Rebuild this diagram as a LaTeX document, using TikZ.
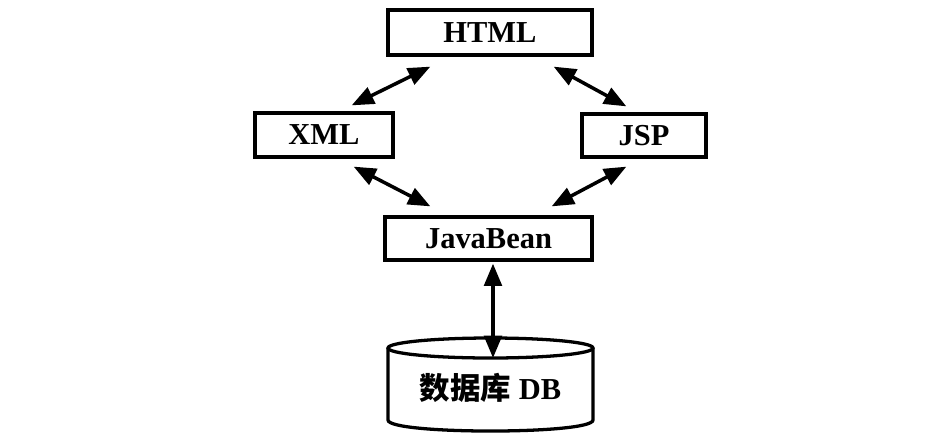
\documentclass[tikz,border=0pt]{standalone}
\usepackage{fontspec}
\setmainfont{Liberation Serif}
\newfontfamily\cjk{Noto Sans CJK SC}
\usetikzlibrary{arrows.meta}

\tikzset{
    layer/.style={draw, line width=2.8pt, font=\bfseries\fontsize{26}{30}\selectfont,
        inner sep=0pt},
    link/.style={line width=3pt,
        {Triangle[length=19pt,width=15pt]}-{Triangle[length=19pt,width=15pt]}}
}

\begin{document}
\begin{tikzpicture}[x=0.03cm, y=-0.03cm]
        \useasboundingbox (0, 0) rectangle (945, 438);
        % the four layers, with labels
        \node[layer, minimum width=6.12cm, minimum height=1.35cm] (html) at (490, 32.5) {HTML};
        \node[layer, minimum width=4.14cm, minimum height=1.32cm] (xml) at (324, 135) {XML};
        \node[layer, minimum width=3.72cm, minimum height=1.29cm] (jsp) at (644, 135.5) {JSP};
        \node[layer, minimum width=6.21cm, minimum height=1.29cm] (bean) at (488.5, 238.5) {JavaBean};
        % the database, drawn as a cylinder
        \draw[line width=2.8pt] (388, 348) -- (388, 420)
            .. controls (388, 434.7) and (593, 434.7) .. (593, 420) -- (593, 348);
        \draw[line width=2.8pt] (490.5, 348) ellipse [x radius=3.075cm, y radius=0.3cm];
        \node[font=\bfseries\fontsize{26}{30}\selectfont] (db) at (490.5, 388) {{\cjk 数据库} DB};
        \coordinate (dbtop) at (493, 358);
        % links between the layers
        \draw[link] ([shift={(44, 10)}]html.south west) -- ([shift={(-43, -6)}]xml.north east);
        \draw[link] ([shift={(-40, 10)}]html.south east) -- ([shift={(46, -6)}]jsp.north west);
        \draw[link] ([shift={(-41, 8)}]xml.south east) -- ([shift={(47, -9)}]bean.north west);
        \draw[link] ([shift={(46, 8)}]jsp.south west) -- ([shift={(-42, -9)}]bean.north east);
        % link down to the database
        \draw[link] ([shift={(4.5, 2)}]bean.south) -- (dbtop);
    \end{tikzpicture}
\end{document}
